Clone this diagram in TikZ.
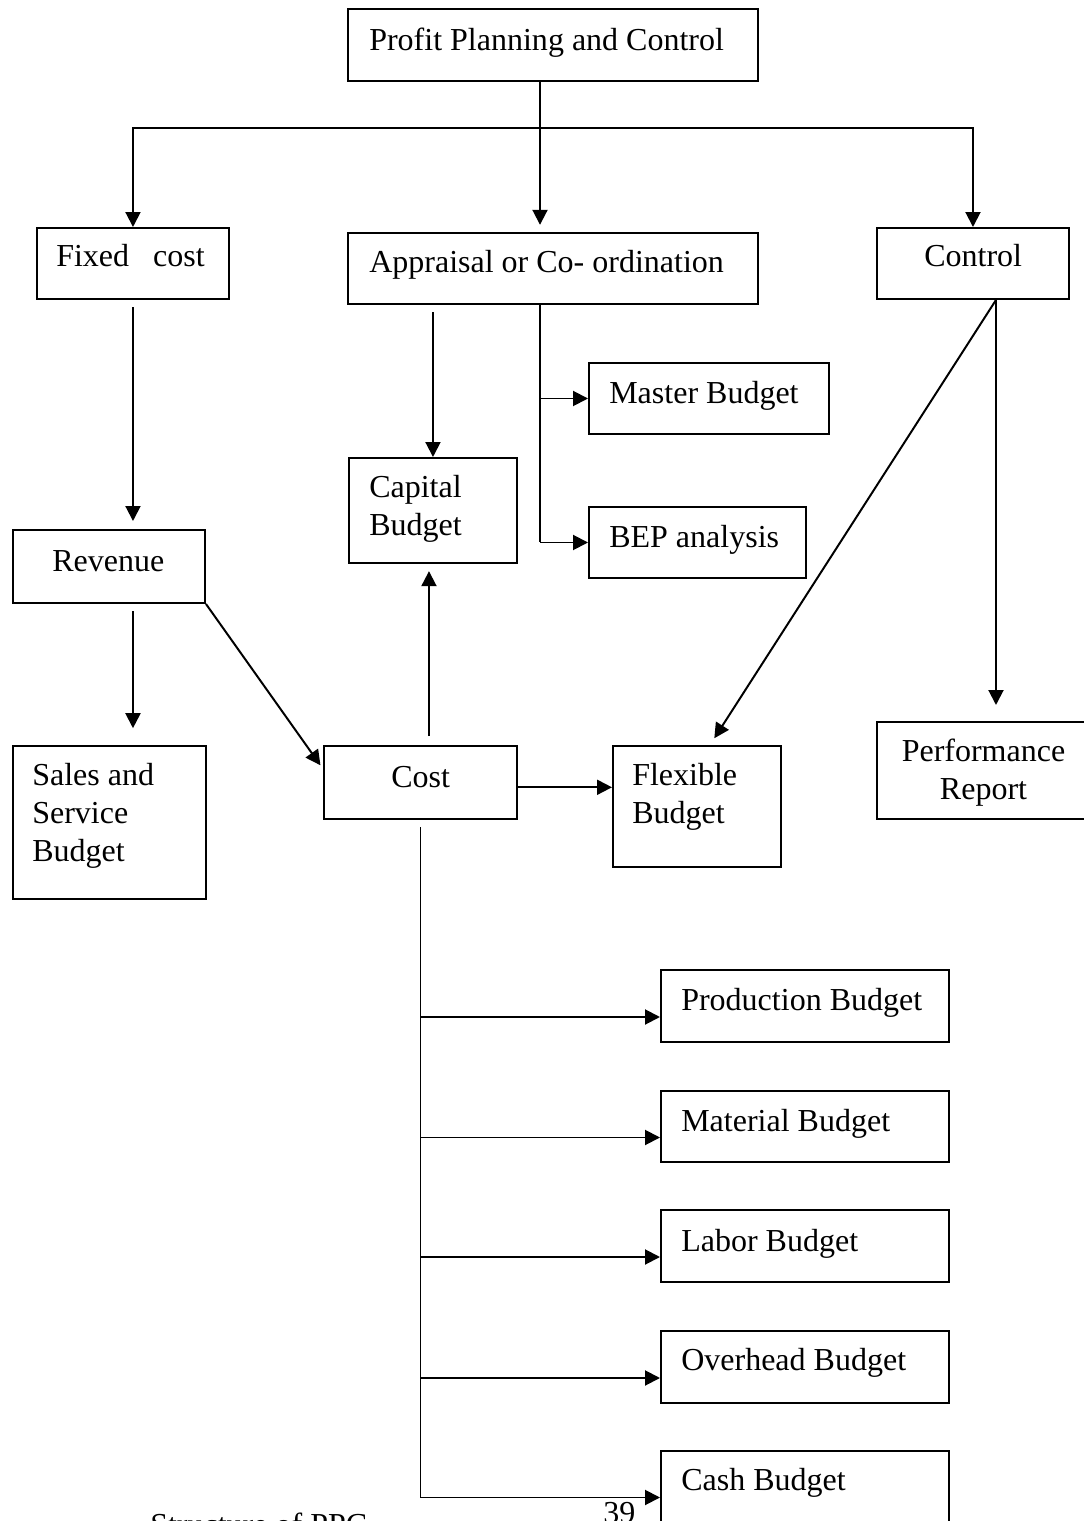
\documentclass[tikz,border=0pt]{standalone}
\usepackage{fontspec}
\setmainfont{Liberation Serif}
\usetikzlibrary{arrows.meta,positioning}
\newcommand{\ppcfont}{\fontsize{22.76pt}{27.03pt}\selectfont}
\tikzset{
	pbox/.style 2 args={rectangle, draw=black, line width=1.4pt, anchor=north west, inner sep=0pt,
		minimum width=#1*0.025cm, minimum height=#2*0.025cm},
	ptext/.style={anchor=north west, inner sep=0pt, align=left, font=\ppcfont, execute at begin node=\strut},
	flowline/.style={line width=1.4pt},
	flowarr/.style={flowline, -{Triangle[length=0.375cm, width=0.375cm]}}
}

\begin{document}
\begin{tikzpicture}[x=0.025cm, y=-0.025cm]
	\useasboundingbox (0,0) rectangle (1084,1521);
	% boxes
	\node[pbox={410}{72}] (ppc) at (347,8) {};
	\node[pbox={192}{71}] (fixed) at (36,227) {};
	\node[pbox={410}{71}] (appraisal) at (347,232) {};
	\node[pbox={192}{71}] (control) at (876,227) {};
	\node[pbox={240}{71}] (master) at (588,362) {};
	\node[pbox={217}{71}] (bep) at (588,506) {};
	\node[pbox={168}{105}] (capital) at (348,457) {};
	\node[pbox={192}{73}] (revenue) at (12,529) {};
	\node[pbox={193}{153}] (sales) at (12,745) {};
	\node[pbox={193}{73}] (cost) at (323,745) {};
	\node[pbox={168}{121}] (flexible) at (612,745) {};
	\node[pbox={224}{97}] (perf) at (876,721) {};
	\node[pbox={288}{72}] (prod) at (660,969) {};
	\node[pbox={288}{71}] (mat) at (660,1090) {};
	\node[pbox={288}{72}] (lab) at (660,1209) {};
	\node[pbox={288}{72}] (over) at (660,1330) {};
	\node[pbox={288}{71}] (cash) at (660,1450) {};
	% texts
	\node[ptext] (ppc-t) at (369,23.4) {Profit Planning and Control};
	\node[ptext] (fixed-t) at (56,239.4) {Fixed\ \ \ cost};
	\node[ptext] (appraisal-t) at (369,245.4) {Appraisal or Co- ordination};
	\node[ptext] (control-t) at (924,240) {Control};
	\node[ptext] (master-t) at (609,376.4) {Master Budget};
	\node[ptext] (bep-t) at (609,520.4) {BEP analysis};
	\node[ptext] (capital-t) at (369,475.4) {Capital\\Budget};
	\node[ptext] (revenue-t) at (52,544.4) {Revenue};
	\node[ptext] (sales-t) at (32,763.4) {Sales and\\Service\\Budget};
	\node[ptext] (cost-t) at (391,760.4) {Cost};
	\node[ptext] (flexible-t) at (632,763.4) {Flexible\\Budget};
	\node[ptext, anchor=north, align=center] (perf-t) at (983.5,739) {Performance\\Report};
	\node[ptext] (prod-t) at (681,983.4) {Production Budget};
	\node[ptext] (mat-t) at (681,1104.4) {Material Budget};
	\node[ptext] (lab-t) at (681,1224.4) {Labor Budget};
	\node[ptext] (over-t) at (681,1343.4) {Overhead Budget};
	\node[ptext] (cash-t) at (681,1463.4) {Cash Budget};
	\node[ptext] (pageno) at (603,1496.4) {39};
	\node[ptext] (caption) at (150,1508.4) {Structure of PPC};
	% connectors
	\coordinate (split) at (540,128);
	\draw[flowline] (split |- ppc.south) -- (split);
	\draw[flowarr] (split) -| (fixed.north);
	\draw[flowarr] (split) -| (control.north);
	\draw[flowarr, shorten >=0.18cm] (split) -- (split |- appraisal.north);
	\draw[flowarr, shorten <=0.18cm, shorten >=0.2cm] (fixed.south) -- (fixed.south |- revenue.north);
	\draw[flowarr, shorten <=0.18cm, shorten >=0.42cm] (fixed.south |- revenue.south) -- (fixed.south |- sales.north);
	\draw[flowarr, shorten >=0.11cm] (revenue.south east) -- ([yshift=0.34cm]cost.west);
	\draw[flowarr, shorten <=0.18cm] (capital.north |- appraisal.south) -- (capital.north);
	\draw[flowline] (split |- appraisal.south) -- (split |- bep.west);
	\draw[flowarr] (split |- master.west) -- (master.west);
	\draw[flowarr] (split |- bep.west) -- (bep.west);
	\coordinate (cfoot) at ([xshift=0.575cm]control.south);
	\draw[flowarr, shorten >=0.2cm] (cfoot) -- ([xshift=0.325cm]flexible.north);
	\draw[flowarr, shorten >=0.4cm] (cfoot) -- (cfoot |- perf.north);
	\coordinate (capfoot) at ([xshift=-0.1cm]capital.south);
	\draw[flowarr, shorten <=0.22cm, shorten >=0.18cm] (capfoot |- cost.north) -- (capfoot);
	\draw[flowarr] ([yshift=-0.12cm]cost.east) -- ([yshift=-0.12cm]cost.east -| flexible.west);
	% cost to the functional budgets
	\draw[flowline, shorten <=0.18cm] (cost.south) -- ([yshift=-0.275cm]cost.south |- cash.west);
	\foreach \b in {prod,mat,lab,over,cash}{
		\coordinate (\b-in) at ([yshift=-0.275cm]\b.west);
		\draw[flowarr] (cost.south |- \b-in) -- (\b-in);
	}
\end{tikzpicture}
\end{document}
